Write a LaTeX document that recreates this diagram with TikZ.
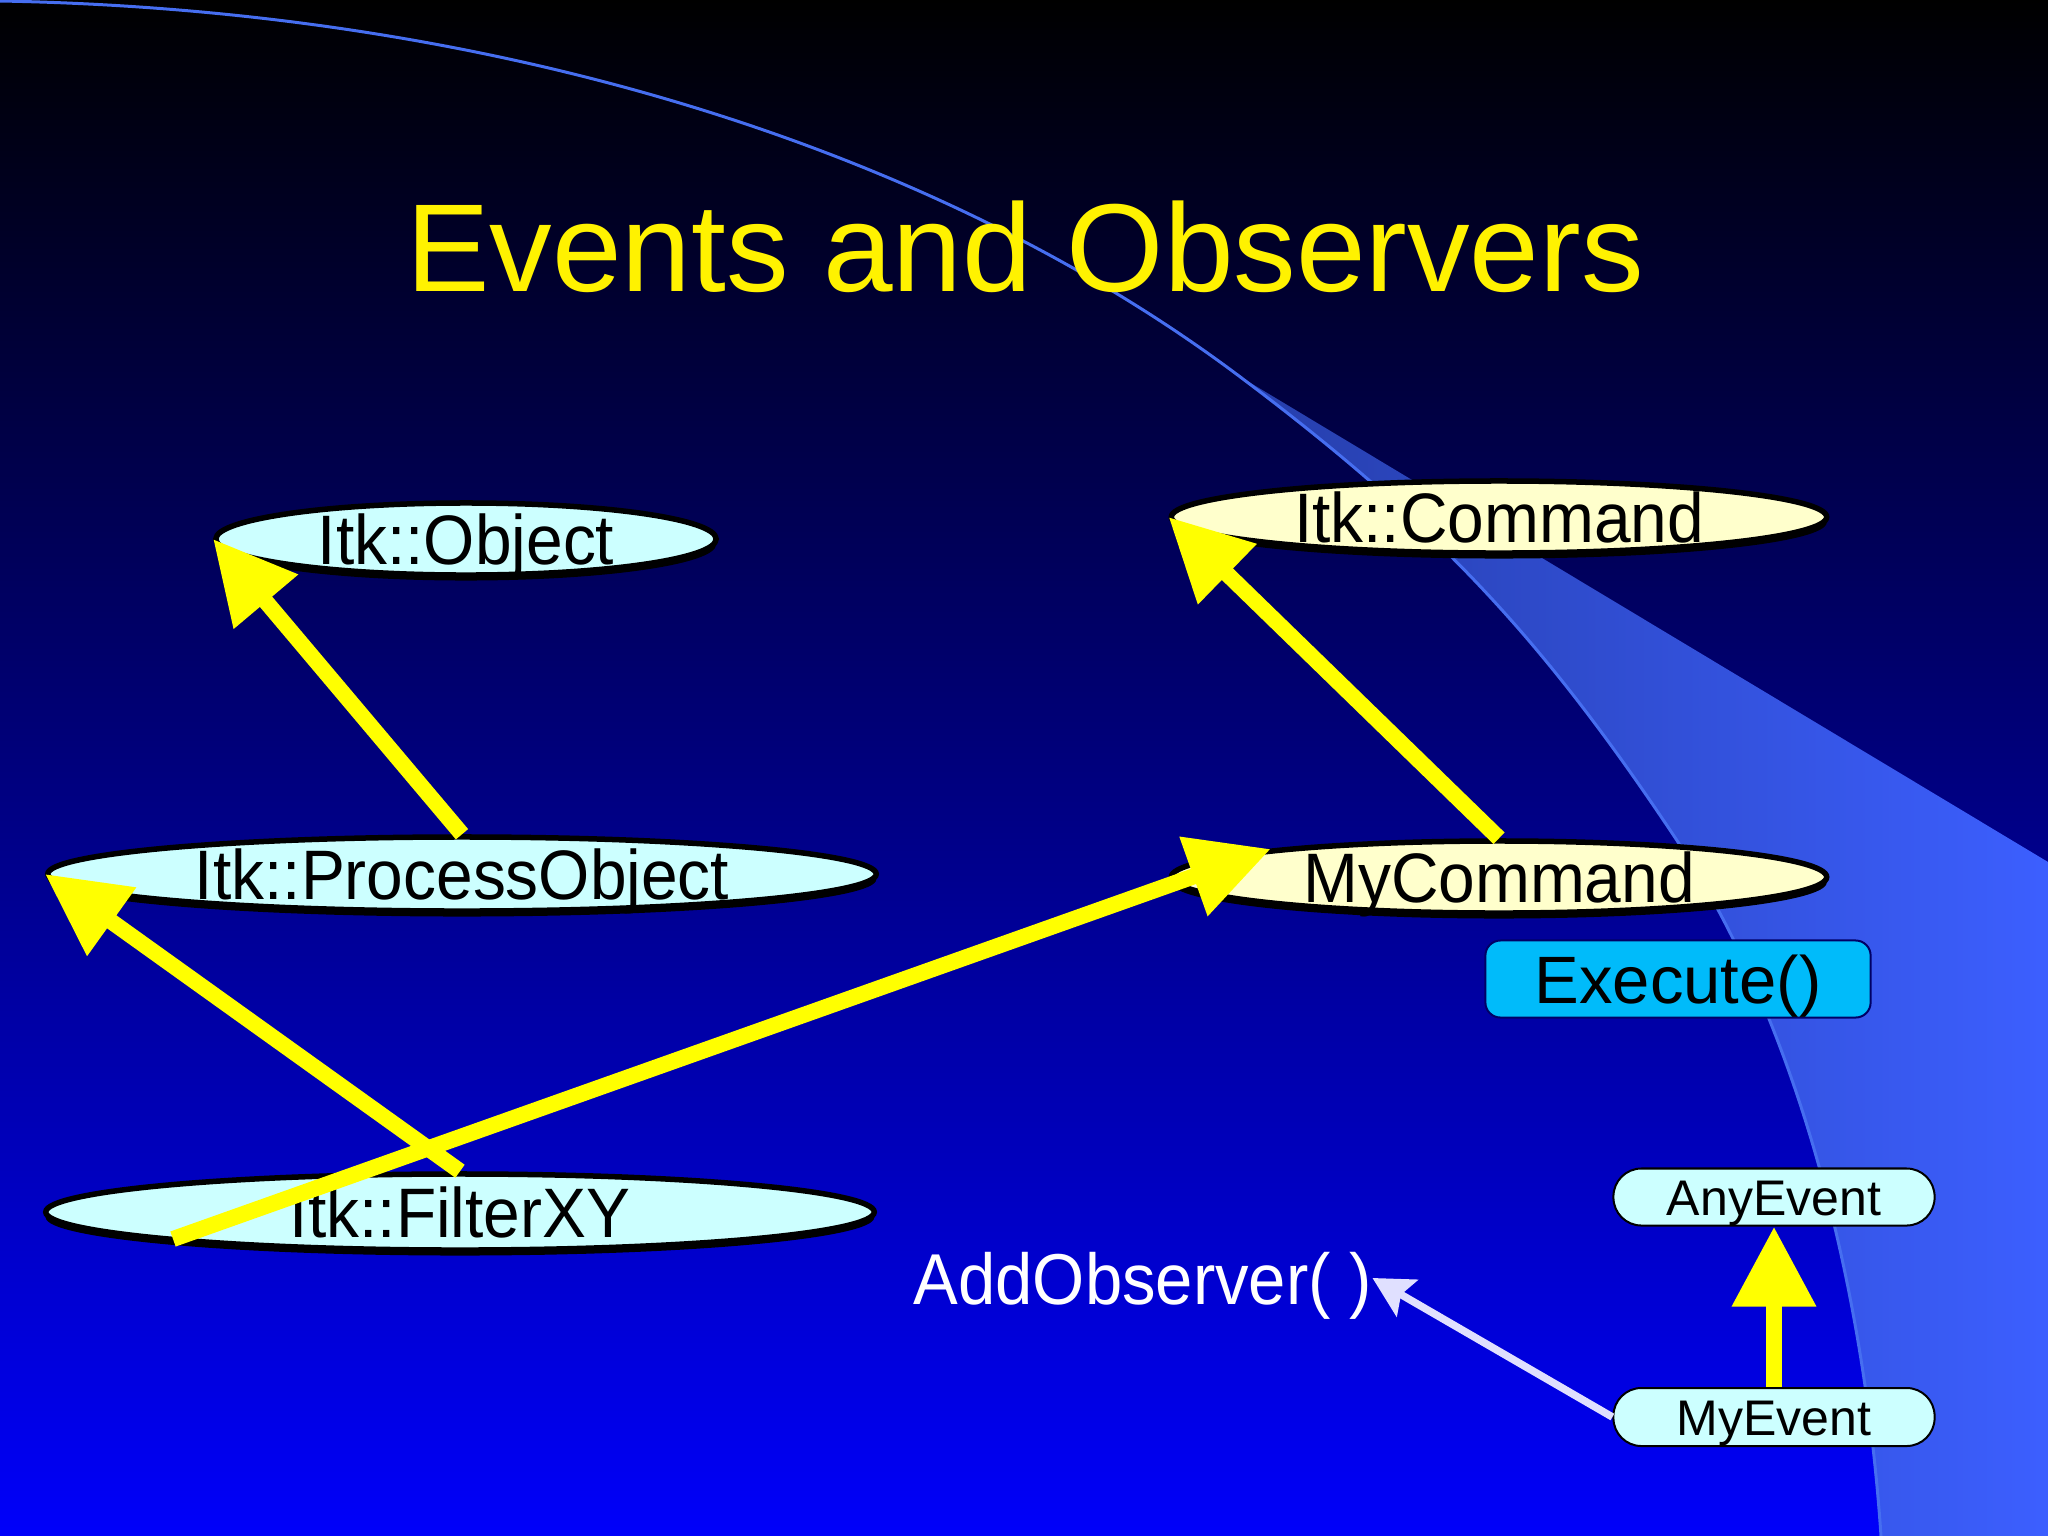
\documentclass[tikz,border=0pt]{standalone}
\usepackage{fontspec}
\setmainfont{Liberation Sans}
\usepackage{graphicx}
\usetikzlibrary{arrows.meta,shadows,shapes.geometric}

\definecolor{lcyan}{RGB}{204,255,255}
\definecolor{lyellow}{RGB}{255,255,204}
\definecolor{exeblue}{RGB}{0,187,250}
\definecolor{wedgeL}{RGB}{38,62,170}
\definecolor{wedgeR}{RGB}{60,95,255}
\definecolor{swoosh}{RGB}{70,110,240}
\definecolor{bgbot}{RGB}{0,0,250}
\definecolor{lavender}{RGB}{224,224,255}
\definecolor{arrowyellow}{RGB}{255,255,0}

\newcommand{\cond}[1]{\scalebox{0.94}[1]{#1}}

\begin{document}
\begin{tikzpicture}[x=0.01cm, y=-0.01cm,
  classell/.style={ellipse, draw=black, line width=0.055cm, inner sep=0pt,
    text height=0.50cm, text depth=0pt,
    font=\fontsize{19.92pt}{24pt}\selectfont,
    drop shadow={shadow xshift=0cm, shadow yshift=-0.055cm, fill=black, opacity=1}},
  eventbox/.style={draw=black, line width=0.02cm, fill=lcyan, rounded corners=0.28cm,
    inner sep=0pt, text height=0.36cm, text depth=0pt,
    font=\fontsize{14.23pt}{17pt}\selectfont},
  yarrow/.style={draw=arrowyellow, line width=0.16cm,
    -{Triangle[length=0.82cm, width=0.80cm]}}
]
\useasboundingbox (0,0) rectangle (2048,1536);
% background
\shade[top color=black, bottom color=bgbot] (0,0) rectangle (2048,1536);
% wedge
\shade[left color=wedgeL, right color=wedgeR]
  (1239,376) .. controls (1439,526) and (1544,641) .. (1674,836)
  .. controls (1799,1024) and (1864,1286) .. (1881,1536)
  -- (2048,1536) -- (2048,862) -- cycle;
% thin swoosh line
\draw[swoosh, line width=0.03cm]
  (0,1) .. controls (500,10) and (939,151) .. (1239,376)
  .. controls (1439,526) and (1544,641) .. (1674,836)
  .. controls (1799,1024) and (1864,1286) .. (1881,1536);

% title
\node[anchor=base, inner sep=0pt, text=yellow, font=\fontsize{35.57pt}{40pt}\selectfont] (title) at (1025,291) {Events and Observers};

% class ellipses
\node[classell, fill=lcyan, minimum width=5.00cm, minimum height=0.72cm] (obj) at (466,539) {\cond{Itk::Object}};
\node[classell, fill=lyellow, minimum width=6.55cm, minimum height=0.72cm] (cmd) at (1499,517) {\cond{Itk::Command}};
\node[classell, fill=lcyan, minimum width=8.28cm, minimum height=0.74cm] (po) at (462,874) {\cond{Itk::ProcessObject}};
\node[classell, fill=lyellow, minimum width=6.55cm, minimum height=0.72cm] (mc) at (1499,877) {\cond{MyCommand}};
\node[classell, fill=lcyan, minimum width=8.28cm, minimum height=0.76cm] (fxy) at (460,1212) {\cond{Itk::FilterXY}};

% Execute box
\node[draw=black!60!blue, line width=0.02cm, fill=exeblue, rounded corners=0.15cm,
  minimum width=3.85cm, minimum height=0.77cm, inner sep=0pt,
  text height=0.48cm, text depth=0pt, font=\fontsize{19.06pt}{23pt}\selectfont]
  (exe) at (1678,979) {Execute()};

% event boxes
\node[eventbox, minimum width=3.21cm, minimum height=0.57cm] (anyev) at (1774,1197) {AnyEvent};
\node[eventbox, minimum width=3.21cm, minimum height=0.58cm] (myev) at (1774,1417) {MyEvent};

% AddObserver text
\node[anchor=base west, inner sep=0pt, text=white, text height=0.52cm, text depth=0pt,
  font=\fontsize{20.49pt}{24pt}\selectfont] (addobs) at (913,1304) {\scalebox{0.93}[1]{AddObserver( )}};

% tail point of the FilterXY -> MyCommand arrow, on the lower left rim of FilterXY
\coordinate (dtail) at ([shift={(-287,27)}]fxy.center);

% yellow inheritance arrows
\draw[yarrow] (po.north) -- (obj.west);
\draw[yarrow] (mc.north) -- (cmd.west);
\draw[yarrow] (fxy.north) -- (po.west);
\draw[yarrow] (dtail) -- (mc.173);
\draw[draw=arrowyellow, line width=0.165cm, -{Triangle[length=0.80cm, width=0.80cm]}] (myev.north) -- (anyev.south);

% observer arrow
\draw[lavender, line width=0.075cm, -{Stealth[length=0.40cm, width=0.42cm, inset=0.07cm]}] (myev.west) -- (addobs.east);
\end{tikzpicture}
\end{document}
